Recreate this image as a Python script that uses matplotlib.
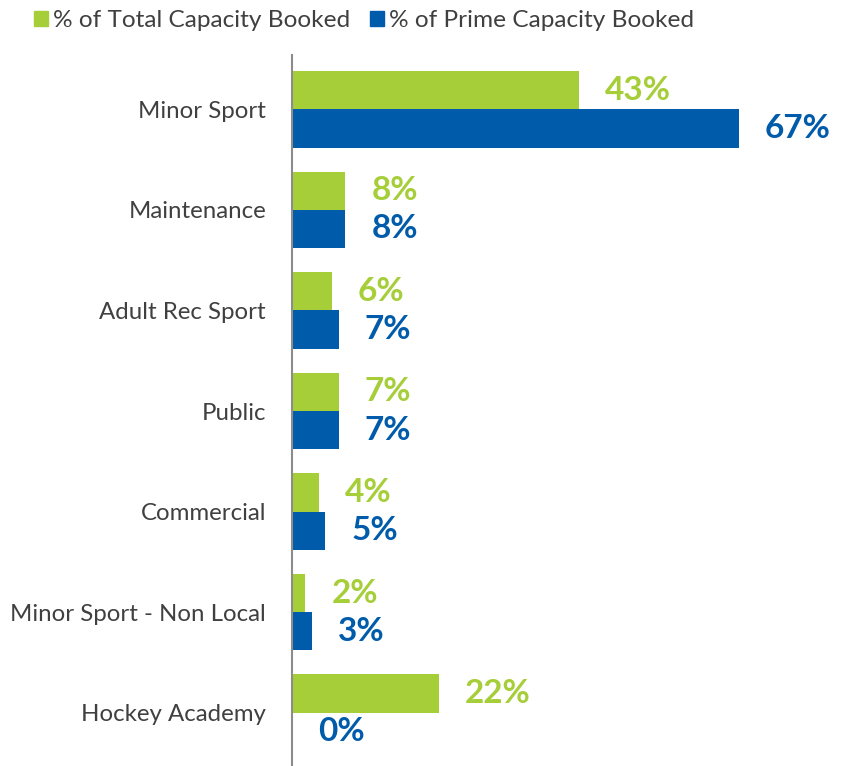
import matplotlib
matplotlib.use("Agg")
import matplotlib.pyplot as plt
from matplotlib.patches import Patch
import numpy as np

categories = ["Minor Sport", "Maintenance", "Adult Rec Sport", "Public",
              "Commercial", "Minor Sport - Non Local", "Hockey Academy"]
total_booked = [43, 8, 6, 7, 4, 2, 22]
prime_booked = [67, 8, 7, 7, 5, 3, 0]
series_names = ["% of Total Capacity Booked", "% of Prime Capacity Booked"]

GREEN = "#A6CE39"
BLUE = "#005BAA"
TEXT = "#404040"

plt.rcParams['font.family'] = ['Lato', 'DejaVu Sans']

fig = plt.figure(figsize=(8.43, 7.66), dpi=100)
ax = fig.add_axes([292/843, 0, 1 - 292/843, 1 - 55/766])

y = np.arange(len(categories))
h = 0.38
ax.barh(y - h/2, total_booked, height=h, color=GREEN, label=series_names[0])
ax.barh(y + h/2, prime_booked, height=h, color=BLUE, label=series_names[1])

px = 82.6 / (843 - 292)
for yi, v in zip(y, total_booked):
    ax.text(v + 26*px, yi - h/2, f"{v}%", color=GREEN, fontsize=24,
            fontweight='bold', va='center', ha='left')
for yi, v in zip(y, prime_booked):
    ax.text(v + 26*px, yi + h/2, f"{v}%", color=BLUE, fontsize=24,
            fontweight='bold', va='center', ha='left')

ax.set_xlim(0, 82.6)
ax.set_ylim(6.53, -0.54)
ax.set_yticks(y)
ax.set_yticklabels(categories, fontsize=17.3, color=TEXT)
ax.tick_params(axis='y', length=0, pad=18.7)
ax.set_xticks([])
for s in ["top", "right", "bottom"]:
    ax.spines[s].set_visible(False)
ax.spines["left"].set_color("#8c8c8c")
ax.spines["left"].set_linewidth(1.5)

handles = [Patch(color=GREEN), Patch(color=BLUE)]
fig.legend(handles, series_names, loc='upper left', bbox_to_anchor=(34/843, 1 - 10/766),
           ncol=2, frameon=False, fontsize=17.6, handlelength=0.57, handleheight=0.57,
           handletextpad=0.2, columnspacing=0.82, labelcolor=TEXT, borderpad=0,
           borderaxespad=0)

fig.savefig("out.png", dpi=100)
